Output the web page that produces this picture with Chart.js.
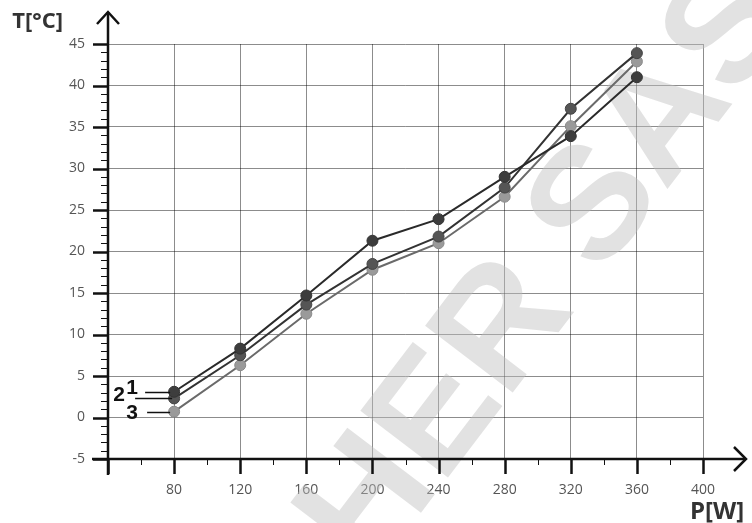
<!DOCTYPE html>
<html>
<head>
<meta charset="utf-8">
<script src="https://cdn.jsdelivr.net/npm/chart.js@4/dist/chart.umd.min.js"></script>
<style>
  html, body { margin: 0; padding: 0; background: #fff; }
  canvas { display: block; }
</style>
</head>
<body>
<canvas id="myChart" width="752" height="523"></canvas>
<script>
// power P[W] on x, temperature T[°C] on y
const powers = [80, 120, 160, 200, 240, 280, 320, 360];
const series1 = [3.1, 8.3, 14.7, 21.3, 23.9, 29.0, 33.9, 41.0];
const series2 = [2.3, 7.5, 13.6, 18.5, 21.8, 27.7, 37.2, 43.9];
const series3 = [0.7, 6.3, 12.5, 17.8, 21.0, 26.6, 35.1, 42.9];
const seriesLabels = ['1', '2', '3'];

const xMin = 40, xMax = 400, xStep = 20;
const yMin = -5, yMax = 45, yStep = 1;

const gridColor = 'rgba(0,0,0,0.45)';
const axisColor = '#111';

function toPoints(values) {
    return powers.map((p, i) => ({ x: p, y: values[i] }));
}

// faint diagonal watermark, behind the lines
const watermark = {
    id: 'watermark',
    beforeDatasetsDraw(chart) {
        const ctx = chart.ctx;
        ctx.save();
        ctx.translate(552, 268);
        ctx.rotate(-0.92);
        ctx.fillStyle = 'rgba(190,190,190,0.45)';
        ctx.font = 'bold 160px "Liberation Sans", Arial, sans-serif';
        ctx.textBaseline = 'middle';
        ctx.textAlign = 'right';
        ctx.fillText('SCHER', -18, 0);
        ctx.textAlign = 'left';
        ctx.fillText('SAS', 22, 0);
        ctx.restore();
    }
};

// axis lines with arrow heads and the major / minor tick marks
const axes = {
    id: 'axes',
    afterDraw(chart) {
        const ctx = chart.ctx;
        const xs = chart.scales.x, ys = chart.scales.y;
        const x0 = xs.getPixelForValue(xMin);
        const y0 = ys.getPixelForValue(yMin);
        const top = chart.chartArea.top - 32;
        const right = chart.chartArea.right + 43;
        ctx.save();
        ctx.strokeStyle = axisColor;
        ctx.lineCap = 'butt';

        ctx.lineWidth = 2.5;
        ctx.beginPath();
        ctx.moveTo(x0, y0 + 16);
        ctx.lineTo(x0, top);
        ctx.moveTo(x0 - 16, y0);
        ctx.lineTo(right, y0);
        ctx.stroke();

        // arrow heads
        ctx.lineJoin = 'miter';
        ctx.beginPath();
        ctx.moveTo(x0 - 11, top + 12);
        ctx.lineTo(x0, top);
        ctx.lineTo(x0 + 11, top + 12);
        ctx.moveTo(right - 12, y0 - 12);
        ctx.lineTo(right, y0);
        ctx.lineTo(right - 12, y0 + 12);
        ctx.stroke();

        ys.ticks.forEach(t => {
            const py = Math.round(ys.getPixelForValue(t.value)) + 0.5;
            const major = t.value % 5 === 0;
            ctx.lineWidth = major ? 2.5 : 1;
            ctx.beginPath();
            ctx.moveTo(x0 - (major ? 15 : 7), py);
            ctx.lineTo(x0, py);
            ctx.stroke();
        });
        xs.ticks.forEach(t => {
            const px = Math.round(xs.getPixelForValue(t.value)) + 0.5;
            const major = t.value % 40 === 0;
            ctx.lineWidth = major ? 2.5 : 1;
            ctx.beginPath();
            ctx.moveTo(px, y0);
            ctx.lineTo(px, y0 + (major ? 15 : 6));
            ctx.stroke();
        });

        // axis titles
        ctx.fillStyle = '#333';
        ctx.font = 'bold 22px "Open Sans", sans-serif';
        ctx.textAlign = 'right';
        ctx.textBaseline = 'alphabetic';
        ctx.fillText('T[°C]', x0 - 45, 28);
        ctx.font = 'bold 24px "Open Sans", sans-serif';
        ctx.textAlign = 'center';
        ctx.fillText('P[W]', right - 29, 519);
        ctx.restore();
    }
};

// series numbers with short leader lines at the first point
const seriesTags = {
    id: 'seriesTags',
    afterDatasetsDraw(chart) {
        const ctx = chart.ctx;
        const offsets = [
            { lx0: -29, lx1: -4, tx: -42, ty: -4 },
            { lx0: -39, lx1: -2, tx: -55, ty: -3 },
            { lx0: -27, lx1: -4, tx: -42, ty: 2 }
        ];
        ctx.save();
        chart.data.datasets.forEach((ds, i) => {
            const p = chart.getDatasetMeta(i).data[0];
            const o = offsets[i];
            ctx.strokeStyle = '#111';
            ctx.lineWidth = 1.5;
            ctx.beginPath();
            ctx.moveTo(p.x + o.lx0, Math.round(p.y) + 0.5);
            ctx.lineTo(p.x + o.lx1, Math.round(p.y) + 0.5);
            ctx.stroke();
            ctx.fillStyle = '#111';
            ctx.font = 'bold 21px "Liberation Sans", Arial, sans-serif';
            ctx.textAlign = 'center';
            ctx.textBaseline = 'middle';
            ctx.fillText(ds.label, p.x + o.tx, p.y + o.ty);
        });
        ctx.restore();
    }
};

const ctx = document.getElementById('myChart').getContext('2d');
const myChart = new Chart(ctx, {
    type: 'line',
    data: {
        datasets: [{
            label: seriesLabels[0],
            data: toPoints(series1),
            borderColor: '#2a2a2a',
            backgroundColor: '#3d3d3d',
            pointBackgroundColor: '#3d3d3d',
            pointBorderColor: '#333',
            borderWidth: 2,
            pointRadius: 5.5,
            pointBorderWidth: 1,
            tension: 0
        }, {
            label: seriesLabels[1],
            data: toPoints(series2),
            borderColor: '#333',
            backgroundColor: '#555',
            pointBackgroundColor: '#555',
            pointBorderColor: '#444',
            borderWidth: 2,
            pointRadius: 5.5,
            pointBorderWidth: 1,
            tension: 0
        }, {
            label: seriesLabels[2],
            data: toPoints(series3),
            borderColor: '#6a6a6a',
            backgroundColor: '#9a9a9a',
            pointBackgroundColor: '#9a9a9a',
            pointBorderColor: '#8a8a8a',
            borderWidth: 2,
            pointRadius: 5.5,
            pointBorderWidth: 1,
            tension: 0
        }]
    },
    options: {
        responsive: false,
        animation: false,
        devicePixelRatio: 1,
        layout: { padding: { left: 0, top: 44, right: 49, bottom: 0 } },
        plugins: {
            legend: { display: false },
            tooltip: { enabled: false }
        },
        scales: {
            x: {
                type: 'linear',
                min: xMin,
                max: xMax,
                afterFit: (scale) => { scale.height = 64; },
                border: { display: false },
                grid: {
                    color: (c) => (c.tick && c.tick.value % 40 === 0 && c.tick.value > xMin) ? gridColor : 'rgba(0,0,0,0)',
                    lineWidth: 1,
                    drawTicks: true,
                    tickLength: 15,
                    tickColor: 'rgba(0,0,0,0)'
                },
                ticks: {
                    stepSize: xStep,
                    autoSkip: false,
                    maxRotation: 0,
                    padding: 8,
                    color: '#555',
                    font: { family: '"Open Sans", sans-serif', size: 14 },
                    callback: (v) => (v % 40 === 0 && v > xMin) ? v : ''
                }
            },
            y: {
                type: 'linear',
                min: yMin,
                max: yMax,
                afterFit: (scale) => { scale.width = 108; },
                border: { display: false },
                grid: {
                    color: (c) => (c.tick && c.tick.value % 5 === 0 && c.tick.value > yMin) ? gridColor : 'rgba(0,0,0,0)',
                    lineWidth: 1,
                    drawTicks: true,
                    tickLength: 15,
                    tickColor: 'rgba(0,0,0,0)'
                },
                ticks: {
                    stepSize: yStep,
                    autoSkip: false,
                    padding: 8,
                    color: '#555',
                    font: { family: '"Open Sans", sans-serif', size: 14 },
                    callback: (v) => v % 5 === 0 ? v : ''
                }
            }
        }
    },
    plugins: [watermark, axes, seriesTags]
});
</script>
</body>
</html>
